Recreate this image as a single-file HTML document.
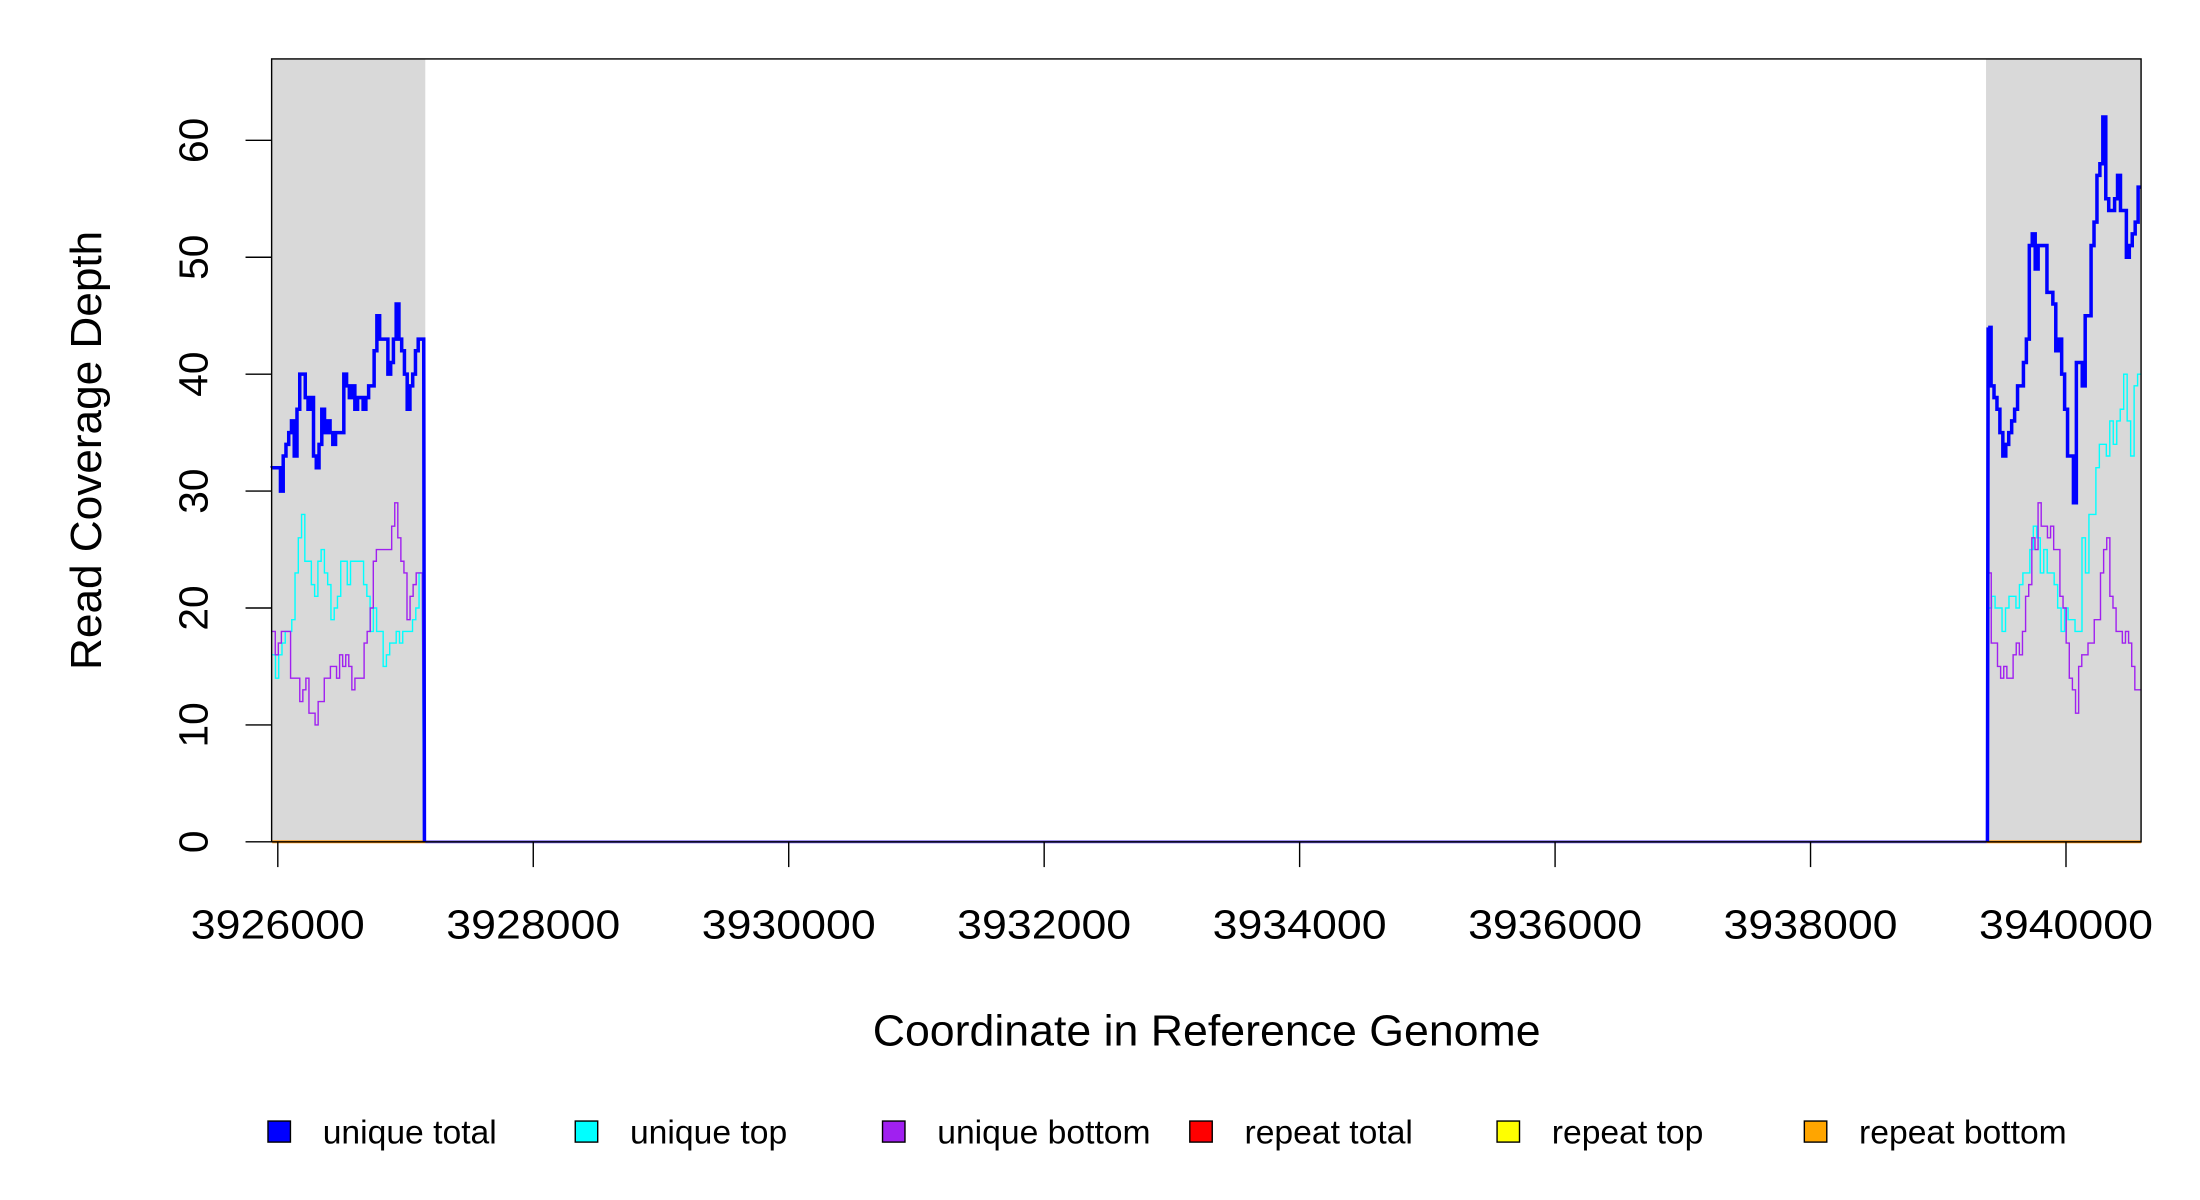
<!DOCTYPE html>
<html><head><meta charset="utf-8"><style>html,body{margin:0;padding:0;background:#fff}svg{display:block}text{font-family:"Liberation Sans",sans-serif;fill:#000}</style></head>
<body>
<svg id="s" width="2200" height="1200" viewBox="0 0 1568 855.27" xmlns="http://www.w3.org/2000/svg">
<rect x="193.6" y="42" width="109.5" height="558" fill="#d9d9d9"/>
<rect x="1415.5" y="42" width="110.5" height="558" fill="#d9d9d9"/>
<line x1="303" y1="600" x2="1416" y2="600" stroke="#6a55e8" stroke-width="2"/>
<line x1="194" y1="600" x2="303" y2="600" stroke="#ff9000" stroke-width="2"/>
<line x1="1416" y1="600" x2="1526" y2="600" stroke="#ff9000" stroke-width="2"/>
<g id="series"></g>
<rect x="193.6" y="42" width="1332.4" height="558" fill="none" stroke="#000" stroke-width="1"/>
<g id="ax" stroke="#000" stroke-width="1"></g>
<g id="lab" font-size="29"></g>
<text x="860" y="745" font-size="31" text-anchor="middle" textLength="476" lengthAdjust="spacingAndGlyphs">Coordinate in Reference Genome</text>
<text transform="translate(72,321) rotate(-90)" font-size="31" text-anchor="middle" textLength="313" lengthAdjust="spacingAndGlyphs">Read Coverage Depth</text>
<g id="leg" font-size="24"></g>
</svg>
<script>
var NS="http://www.w3.org/2000/svg";
function el(p,t,a,txt){var e=document.createElementNS(NS,t);for(var k in a)e.setAttribute(k,a[k]);if(txt)e.textContent=txt;document.getElementById(p).appendChild(e);return e;}
function Y(v){return 600-v*8.333;}
function step(vals,x0,x1){var dx=(x1-x0)/vals.length;var d="M"+x0+" "+Y(vals[0]);for(var i=0;i<vals.length;i++){var xa=x0+i*dx,xb=xa+dx;d+=" L"+xa.toFixed(2)+" "+Y(vals[i]).toFixed(2)+" L"+xb.toFixed(2)+" "+Y(vals[i]).toFixed(2);}return d;}
var Lb=[32,32,32,30,33,34,35,36,33,37,40,40,38,37,38,33,32,34,37,35,36,35,34,35,35,35,40,39,38,39,37,38,38,37,38,39,39,42,45,43,43,43,40,41,43,46,43,42,40,37,39,40,42,43,43];
var Lc=[16,14,16,17,18,18,19,23,26,28,24,24,22,21,24,25,23,22,19,20,21,24,24,22,24,24,24,24,22,21,18,20,18,18,15,16,17,17,18,17,18,18,18,19,20,23];
var Lp=[18,16,17,18,18,18,14,14,14,12,13,14,11,11,10,12,12,14,14,15,15,14,16,15,16,15,13,14,14,14,17,18,20,24,25,25,25,25,25,27,29,26,24,23,19,21,22,23,23];
var Rb=[44,39,38,37,35,33,34,35,36,37,39,39,41,43,51,52,49,51,51,51,47,47,46,42,43,40,37,33,33,29,41,41,39,45,45,51,53,57,58,62,55,54,54,55,57,54,54,50,51,52,53,56];
var Rc=[20,21,20,20,18,20,21,21,20,22,23,23,25,27,26,23,25,23,23,22,20,18,20,19,19,18,18,26,23,28,28,32,34,34,33,36,34,36,37,40,36,33,39,40];
var Rp=[23,17,17,15,14,15,14,14,16,17,16,18,21,22,26,25,29,27,27,26,27,25,25,21,20,17,14,13,11,15,16,16,17,17,19,19,23,25,26,21,20,18,18,17,18,17,15,13,13];
el("series","path",{d:step(Lc,194,301)+" L301 "+Y(20)+" L302 600",fill:"none",stroke:"#00ffff","stroke-width":1});
el("series","path",{d:step(Lp,194,301)+" L301 "+Y(23)+" L302 600",fill:"none",stroke:"#a020f0","stroke-width":1});
el("series","path",{d:step(Lb,194,302)+" L302.5 600",fill:"none",stroke:"#0000ff","stroke-width":2.5});
el("series","path",{d:"M1416 600 L1417 "+Y(20)+" "+step(Rc,1417,1526).slice(1),fill:"none",stroke:"#00ffff","stroke-width":1});
el("series","path",{d:"M1416 600 L1417 "+Y(23)+" "+step(Rp,1417,1526).slice(1),fill:"none",stroke:"#a020f0","stroke-width":1});
el("series","path",{d:"M1416.5 600 L1417 "+Y(44)+" "+step(Rb,1417,1526).slice(1),fill:"none",stroke:"#0000ff","stroke-width":2.5});
for(var k=0;k<8;k++){var x=198+k*182.07;el("ax","line",{x1:x,y1:600,x2:x,y2:618});el("lab","text",{x:x,y:669,"text-anchor":"middle",textLength:124,lengthAdjust:"spacingAndGlyphs"},String(3926000+2000*k));}
for(var v=0;v<=60;v+=10){var y=Y(v);el("ax","line",{x1:175,y1:y,x2:193.6,y2:y});el("lab","text",{transform:"translate(148,"+y+") rotate(-90)","text-anchor":"middle"},String(v));}
var L=[["#0000ff","unique total"],["#00ffff","unique top"],["#a020f0","unique bottom"],["#ff0000","repeat total"],["#ffff00","repeat top"],["#ffa500","repeat bottom"]];
for(var i=0;i<6;i++){var x=191+i*219;el("leg","rect",{x:x,y:799,width:16,height:15,fill:L[i][0],stroke:"#000","stroke-width":1});el("leg","text",{x:x+39,y:815},L[i][1]);}
</script>
</body></html>
